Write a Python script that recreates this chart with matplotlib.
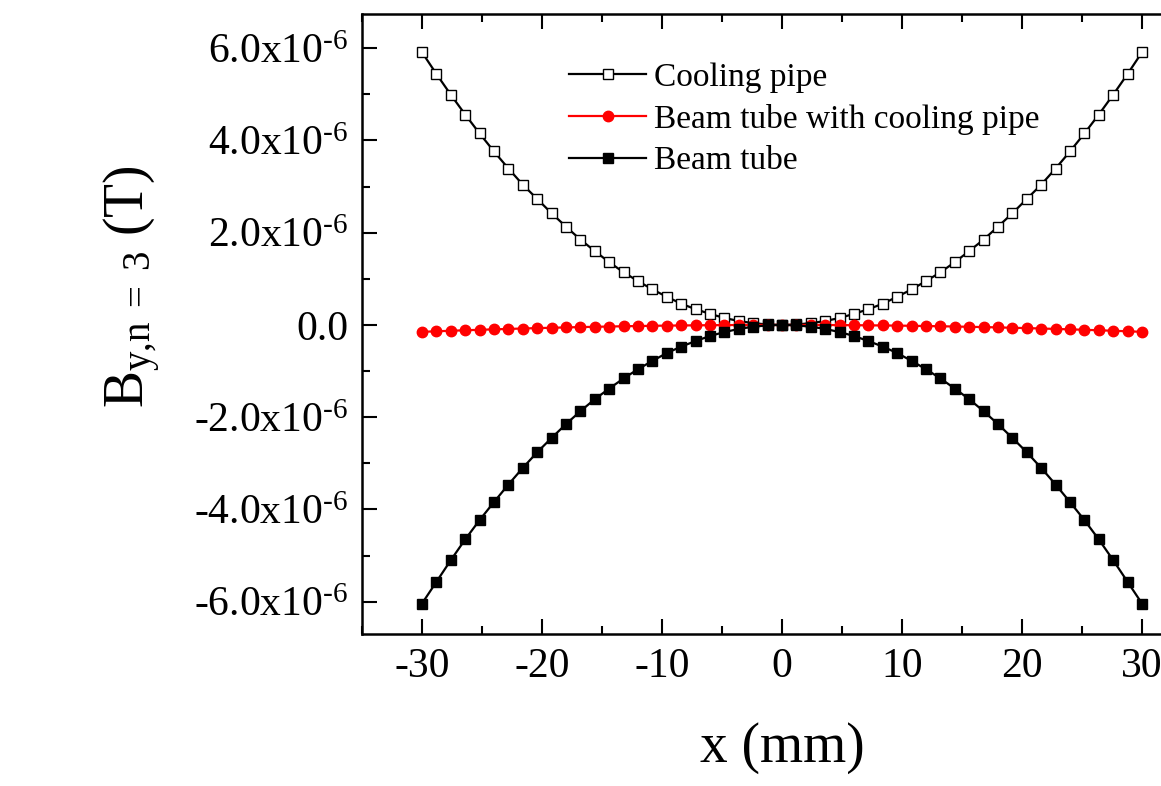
import numpy as np
import matplotlib
matplotlib.use('Agg')
import matplotlib.pyplot as plt
from matplotlib.ticker import MultipleLocator, FuncFormatter

plt.rcParams['font.family'] = 'Liberation Serif'
plt.rcParams['mathtext.fontset'] = 'custom'
plt.rcParams['mathtext.rm'] = 'Liberation Serif'
plt.rcParams['mathtext.it'] = 'Liberation Serif:italic'
plt.rcParams['axes.unicode_minus'] = False

# x position (mm)
x_mm = [-30.0, -28.8, -27.6, -26.4, -25.2, -24.0, -22.8, -21.6, -20.4, -19.2,
        -18.0, -16.8, -15.6, -14.4, -13.2, -12.0, -10.8, -9.6, -8.4, -7.2,
        -6.0, -4.8, -3.6, -2.4, -1.2, 0.0, 1.2, 2.4, 3.6, 4.8,
        6.0, 7.2, 8.4, 9.6, 10.8, 12.0, 13.2, 14.4, 15.6, 16.8,
        18.0, 19.2, 20.4, 21.6, 22.8, 24.0, 25.2, 26.4, 27.6, 28.8, 30.0]

# B_y, n=3 in units of 1e-6 T
cooling_pipe = [5.91, 5.44, 4.99, 4.56, 4.15, 3.76, 3.39, 3.04, 2.73, 2.42,
                2.13, 1.85, 1.60, 1.36, 1.14, 0.95, 0.77, 0.61, 0.46, 0.34,
                0.24, 0.15, 0.085, 0.038, 0.009, 0.0, 0.009, 0.038, 0.085, 0.15,
                0.24, 0.34, 0.46, 0.61, 0.77, 0.95, 1.14, 1.36, 1.60, 1.85,
                2.13, 2.42, 2.73, 3.04, 3.39, 3.76, 4.15, 4.56, 4.99, 5.44, 5.91]

with_cooling = [-0.15, -0.138, -0.127, -0.116, -0.106, -0.096, -0.087, -0.078, -0.069, -0.062,
                -0.054, -0.047, -0.041, -0.035, -0.029, -0.024, -0.019, -0.015, -0.012, -0.009,
                -0.006, -0.004, -0.002, -0.001, 0.0, 0.0, 0.0, -0.001, -0.002, -0.004,
                -0.006, -0.009, -0.012, -0.015, -0.019, -0.024, -0.029, -0.035, -0.041, -0.047,
                -0.054, -0.062, -0.069, -0.078, -0.087, -0.096, -0.106, -0.116, -0.127, -0.138, -0.15]

beam_tube = [-6.04, -5.57, -5.10, -4.65, -4.23, -3.84, -3.46, -3.10, -2.76, -2.45,
             -2.15, -1.87, -1.61, -1.38, -1.16, -0.96, -0.78, -0.61, -0.47, -0.35,
             -0.24, -0.155, -0.087, -0.039, -0.010, 0.0, -0.010, -0.039, -0.087, -0.155,
             -0.24, -0.35, -0.47, -0.61, -0.78, -0.96, -1.16, -1.38, -1.61, -1.87,
             -2.15, -2.45, -2.76, -3.10, -3.46, -3.84, -4.23, -4.65, -5.10, -5.57, -6.04]

fig = plt.figure(figsize=(11.61, 7.86), dpi=100)
# axes runs past the right edge of the figure, like the cropped original
ax = fig.add_axes([0.3118, 0.1934, 0.7235, 0.7888])

scale = 1e-6
ax.plot(x_mm, np.array(cooling_pipe) * scale, color='black', lw=1.6,
        marker='s', ms=7, mfc='white', mec='black', mew=1.0, label='Cooling pipe')
ax.plot(x_mm, np.array(with_cooling) * scale, color='red', lw=1.6,
        marker='o', ms=7.5, mfc='red', mec='red', label='Beam tube with cooling pipe')
ax.plot(x_mm, np.array(beam_tube) * scale, color='black', lw=1.6,
        marker='s', ms=7, mfc='black', mec='black', label='Beam tube')

ax.set_xlim(-35, 35)
ax.set_ylim(-6.7e-6, 6.74e-6)
ax.xaxis.set_major_locator(MultipleLocator(10))
ax.xaxis.set_minor_locator(MultipleLocator(5))
ax.yaxis.set_major_locator(MultipleLocator(2e-6))
ax.yaxis.set_minor_locator(MultipleLocator(1e-6))


def yfmt(v, pos):
    if abs(v) < 1e-12:
        return '0.0'
    return '%.1fx10$^{\\text{-6}}$' % (v / 1e-6)


ax.yaxis.set_major_formatter(FuncFormatter(yfmt))

ax.tick_params(which='both', direction='in', top=True, right=False, width=1.5)
ax.tick_params(which='major', length=11, labelsize=30)
ax.tick_params(which='minor', length=6)
ax.tick_params(axis='y', pad=10)
ax.tick_params(axis='x', pad=10)
for s in ax.spines.values():
    s.set_linewidth(1.8)

ax.set_xlabel('x (mm)', fontsize=40, labelpad=26)
ax.set_ylabel('B$_{\\mathregular{y{,}n\\ =\\ 3}}$ (T)', fontsize=40)
ax.yaxis.set_label_coords(-0.237, 0.56)

ax.legend(loc='upper left', bbox_to_anchor=(0.247, 0.922), frameon=False,
          fontsize=24, handlelength=2.3, handletextpad=0.25, labelspacing=0.33,
          borderpad=0, borderaxespad=0)

fig.savefig('out.png', dpi=100)
